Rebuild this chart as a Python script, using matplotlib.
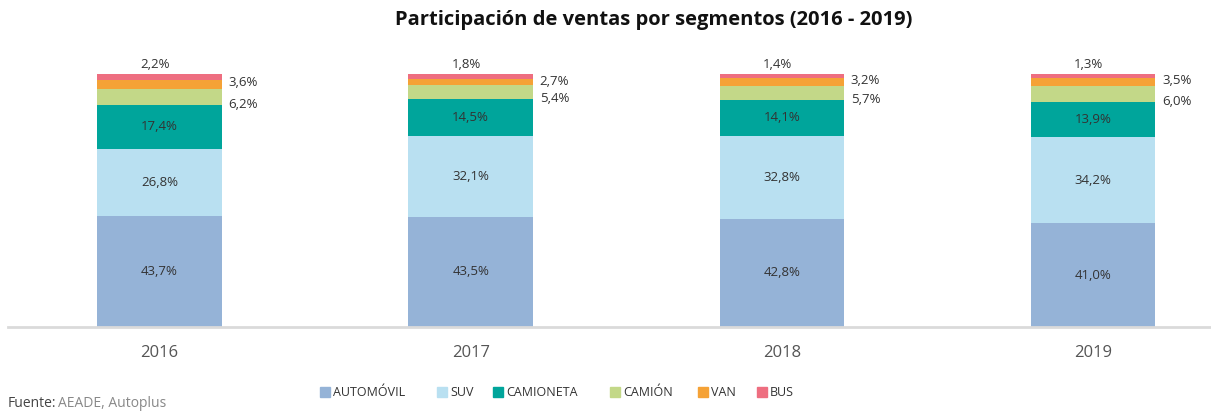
import numpy as np
import matplotlib.pyplot as plt
from matplotlib.patches import Rectangle

plt.rcParams['font.family'] = ['Open Sans', 'DejaVu Sans']

# Dades
anys = ['2016', '2017', '2018', '2019']
segments = ['AUTOMÓVIL', 'SUV', 'CAMIONETA', 'CAMIÓN', 'VAN', 'BUS']
automovil = [43.7, 43.5, 42.8, 41.0]
suv = [26.8, 32.1, 32.8, 34.2]
camioneta = [17.4, 14.5, 14.1, 13.9]
camion = [6.2, 5.4, 5.7, 6.0]
van = [3.6, 2.7, 3.2, 3.5]
bus = [2.2, 1.8, 1.4, 1.3]

colors = ['#95b3d7', '#b9e0f1', '#00a59b', '#c3d888', '#f5a236', '#ee6e80']
valors = [automovil, suv, camioneta, camion, van, bus]

fig = plt.figure(figsize=(12.11, 4.12), dpi=100)
ax = fig.add_axes([8/1211, 1 - 327/412, 1 - 8/1211, (327 - 74)/412])

x = np.arange(len(anys))
amplada = 0.4
base = np.zeros(len(anys))
fons = []
for nom, vals, col in zip(segments, valors, colors):
    vals = np.array(vals)
    ax.bar(x, vals, amplada, bottom=base, color=col, label=nom, zorder=2)
    fons.append(base.copy())
    base = base + vals

def fmt(v):
    return f'{v:.1f}%'.replace('.', ',')

text_col = '#333333'
for i in range(len(anys)):
    # etiquetes dins de la barra
    for k in range(3):
        v = valors[k][i]
        ax.text(x[i], fons[k][i] + v / 2, fmt(v), ha='center', va='center',
                fontsize=9.5, color=text_col)
    # camió: a la dreta, vora inferior
    ax.text(x[i] + amplada / 2 + 0.022, fons[3][i] + 0.2, fmt(camion[i]),
            ha='left', va='center', fontsize=9.5, color=text_col)
    # van: a la dreta
    ax.text(x[i] + amplada / 2 + 0.022, fons[4][i] + van[i] - 1.2, fmt(van[i]),
            ha='left', va='center', fontsize=9.5, color=text_col)
    # bus: a sobre
    ax.annotate(fmt(bus[i]), (x[i], base[i]), xytext=(-3, 7), textcoords='offset points',
                ha='center', va='center', fontsize=9.5, color=text_col)

ax.set_xlim(-(159.5 - 8) / 311.2, 3 + (1211 - 1093) / 311.2)
ax.set_ylim(0, 100)
ax.set_xticks(x)
ax.set_xticklabels(anys, fontsize=12, color='#555555')
ax.tick_params(axis='x', length=0, pad=13)
ax.set_yticks([])
for s in ['top', 'right', 'left']:
    ax.spines[s].set_visible(False)
ax.spines['bottom'].set_color('#dadada')
ax.spines['bottom'].set_linewidth(2)

fig.text(0.54, 1 - 20/412, 'Participación de ventas por segmentos (2016 - 2019)',
         ha='center', va='center', fontsize=14.5, fontweight='bold', color='#111111')

# llegenda manual (posicions en píxels)
llegenda_x = [320, 437, 493, 610, 698, 757]
W, H = 1211, 412
for nom, col, px in zip(segments, colors, llegenda_x):
    fig.patches.append(Rectangle((px / W, 1 - 397/H), 10 / W, 10 / H,
                                 transform=fig.transFigure, color=col))
    fig.text((px + 13) / W, 1 - 392/H, nom, ha='left', va='center',
             fontsize=9, color=text_col)

fig.text(8/1211, 1 - 396/412, 'Fuente:', ha='left', va='top', fontsize=10, color='#444444')
fig.text(58/1211, 1 - 396/412, 'AEADE, Autoplus', ha='left', va='top', fontsize=10, color='#888888')

plt.savefig('out.png', dpi=100)
